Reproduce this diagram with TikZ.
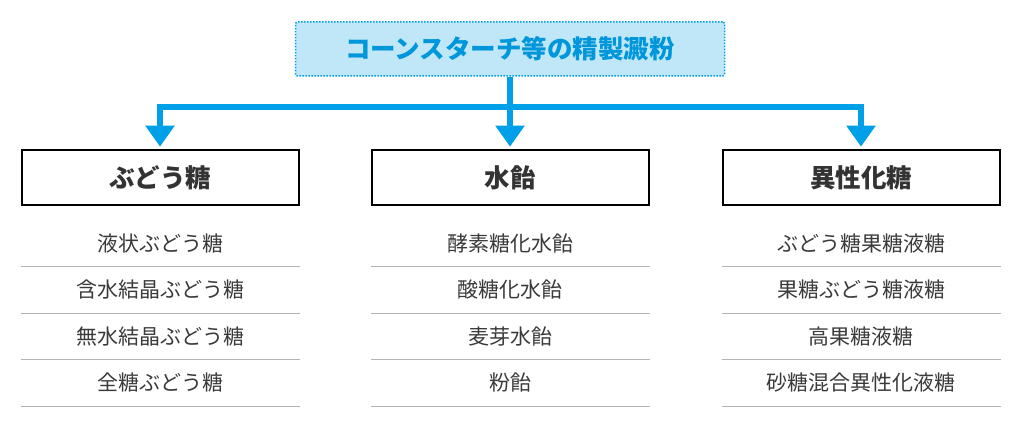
\documentclass[tikz,border=0pt]{standalone}
\usepackage{fontspec}
\setmainfont{Noto Sans CJK JP}
\usepackage{xcolor}
\usetikzlibrary{positioning, arrows.meta}

\definecolor{flowblue}{HTML}{00A0E9}
\definecolor{topfill}{HTML}{BFE7F7}
\definecolor{toptext}{HTML}{0096DB}
\definecolor{headtext}{HTML}{333333}
\definecolor{itemtext}{HTML}{3A3A3A}
\definecolor{sepgray}{HTML}{B4B4B4}

\begin{document}
\begin{tikzpicture}[x=1pt, y=-1pt,
		top/.style={draw=flowblue, dash pattern=on 1.5pt off 1.5pt, line width=1.5pt, rounded corners=2pt, fill=topfill, text=toptext, font=\fontsize{25.5pt}{30pt}\selectfont\bfseries, minimum width=429pt, minimum height=54pt, inner sep=0pt},
		box/.style={draw=black, line width=2pt, text=headtext, font=\fontsize{25.5pt}{30pt}\selectfont\bfseries, minimum width=277pt, minimum height=55pt, inner sep=0pt},
		item/.style={text=itemtext, font=\fontsize{21pt}{25pt}\selectfont, minimum width=279pt, minimum height=46.5pt, inner sep=0pt, outer sep=0pt},
		sep/.style={draw=sepgray, line width=1pt},
		stem/.style={draw=flowblue, line width=6pt},
		arrow/.style={stem, -{Triangle[width=28pt, length=21pt]}, shorten >= 2.5pt}]
	\useasboundingbox (0,0) rectangle (1022,427);

	\node[top] (0) at (510,49) {コーンスターチ等の精製澱粉};
	\node[box] (1) at (160,177.7) {ぶどう糖};
	\node[box] (2) at (510,177.7) {水飴};
	\node[box] (3) at (861,177.7) {異性化糖};
	\coordinate (hub) at (510,107);

	\draw[stem] (0) -- (hub);
	\draw[arrow] (hub) -| (1);
	\draw[arrow] (hub) -- (2);
	\draw[arrow] (hub) -| (3);

	\node[item, below=14pt of 1] (11) {液状ぶどう糖};
	\node[item, below=0pt of 11] (12) {含水結晶ぶどう糖};
	\node[item, below=0pt of 12] (13) {無水結晶ぶどう糖};
	\node[item, below=0pt of 13] (14) {全糖ぶどう糖};

	\node[item, below=14pt of 2] (21) {酵素糖化水飴};
	\node[item, below=0pt of 21] (22) {酸糖化水飴};
	\node[item, below=0pt of 22] (23) {麦芽水飴};
	\node[item, below=0pt of 23] (24) {粉飴};

	\node[item, below=14pt of 3] (31) {ぶどう糖果糖液糖};
	\node[item, below=0pt of 31] (32) {果糖ぶどう糖液糖};
	\node[item, below=0pt of 32] (33) {高果糖液糖};
	\node[item, below=0pt of 33] (34) {砂糖混合異性化液糖};

	\draw[sep] (11.south west) -- (11.south east);
	\draw[sep] (12.south west) -- (12.south east);
	\draw[sep] (13.south west) -- (13.south east);
	\draw[sep] (14.south west) -- (14.south east);
	\draw[sep] (21.south west) -- (21.south east);
	\draw[sep] (22.south west) -- (22.south east);
	\draw[sep] (23.south west) -- (23.south east);
	\draw[sep] (24.south west) -- (24.south east);
	\draw[sep] (31.south west) -- (31.south east);
	\draw[sep] (32.south west) -- (32.south east);
	\draw[sep] (33.south west) -- (33.south east);
	\draw[sep] (34.south west) -- (34.south east);
\end{tikzpicture}
\end{document}
